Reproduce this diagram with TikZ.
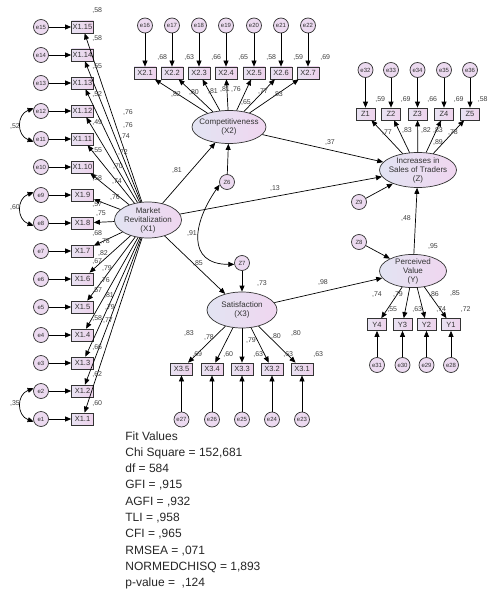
\documentclass[tikz,border=0pt]{standalone}
\usepackage{fontspec}
\setmainfont{Liberation Sans}
\usepackage{tikz}
\usetikzlibrary{arrows.meta,shapes.geometric}
\definecolor{latl}{RGB}{226,228,242}
\definecolor{latr}{RGB}{240,214,240}
\definecolor{boxl}{RGB}{232,226,242}
\definecolor{boxr}{RGB}{238,210,236}
\definecolor{errfill}{RGB}{236,218,240}

\begin{document}
\begin{tikzpicture}[x=1pt,y=-1pt,line width=0.7pt,
  >={Triangle[length=6pt,width=5pt]},
  ind/.style={draw=black!80,left color=boxl,right color=boxr,minimum width=22pt,minimum height=12pt,inner sep=0pt,font=\fontsize{7.5}{8}\selectfont,text=black!80},
  err/.style={circle,draw=black!80,fill=errfill,minimum size=15pt,inner sep=0pt,font=\fontsize{6}{7}\selectfont,text=black!80},
  lat/.style={ellipse,draw=black!80,left color=latl,right color=latr,inner xsep=-5pt,inner ysep=-1pt,align=center,font=\fontsize{8}{9}\selectfont,text=black!80},
  coef/.style={inner sep=0pt,font=\fontsize{7}{8}\selectfont,text=black!75}]
  \useasboundingbox (0,0) rectangle (488,594);

  % latent variables
  \node[lat,minimum width=67pt,minimum height=36pt] (x1) at (148,220) {Market\\Revitalization\\(X1)};
  \node[lat,minimum width=74pt,minimum height=33pt] (x2) at (229,127) {Competitiveness\\(X2)};
  \node[lat,minimum width=70pt,minimum height=36pt] (x3) at (242,310) {Satisfaction\\(X3)};
  \node[lat,minimum width=77pt,minimum height=35pt] (z) at (418,170) {Increases in\\Sales of Traders\\(Z)};
  \node[lat,minimum width=67pt,minimum height=32pt] (y) at (413,271) {Perceived\\Value\\(Y)};
  \node[err] (z6) at (227,182) {Z6};
  \node[err] (z7) at (242,263) {Z7};
  \node[err] (z9) at (359,202) {Z9};
  \node[err] (z8) at (359,242) {Z8};

  % X1 indicators
  \node[ind] (x1-1) at (82.5,419) {X1.1};
  \node[ind] (x1-2) at (82.5,391) {X1.2};
  \node[ind] (x1-3) at (82.5,363) {X1.3};
  \node[ind] (x1-4) at (82.5,335) {X1.4};
  \node[ind] (x1-5) at (82.5,307) {X1.5};
  \node[ind] (x1-6) at (82.5,279) {X1.6};
  \node[ind] (x1-7) at (82.5,251) {X1.7};
  \node[ind] (x1-8) at (82.5,223) {X1.8};
  \node[ind] (x1-9) at (82.5,195) {X1.9};
  \node[ind] (x1-10) at (82.5,167) {X1.10};
  \node[ind] (x1-11) at (82.5,139) {X1.11};
  \node[ind] (x1-12) at (82.5,111) {X1.12};
  \node[ind] (x1-13) at (82.5,83) {X1.13};
  \node[ind] (x1-14) at (82.5,55) {X1.14};
  \node[ind] (x1-15) at (82.5,27) {X1.15};
  \node[err] (e1) at (41,419) {e1};
  \node[err] (e2) at (41,391) {e2};
  \node[err] (e3) at (41,363) {e3};
  \node[err] (e4) at (41,335) {e4};
  \node[err] (e5) at (41,307) {e5};
  \node[err] (e6) at (41,279) {e6};
  \node[err] (e7) at (41,251) {e7};
  \node[err] (e8) at (41,223) {e8};
  \node[err] (e9) at (41,195) {e9};
  \node[err] (e10) at (41,167) {e10};
  \node[err] (e11) at (41,139) {e11};
  \node[err] (e12) at (41,111) {e12};
  \node[err] (e13) at (41,83) {e13};
  \node[err] (e14) at (41,55) {e14};
  \node[err] (e15) at (41,27) {e15};

  % X2 indicators
  \node[ind] (x2-1) at (145,73) {X2.1};
  \node[ind] (x2-2) at (172,73) {X2.2};
  \node[ind] (x2-3) at (199,73) {X2.3};
  \node[ind] (x2-4) at (226,73) {X2.4};
  \node[ind] (x2-5) at (254,73) {X2.5};
  \node[ind] (x2-6) at (281,73) {X2.6};
  \node[ind] (x2-7) at (308,73) {X2.7};
  \node[err] (e16) at (145,25.5) {e16};
  \node[err] (e17) at (172,25.5) {e17};
  \node[err] (e18) at (199,25.5) {e18};
  \node[err] (e19) at (226,25.5) {e19};
  \node[err] (e20) at (254,25.5) {e20};
  \node[err] (e21) at (281,25.5) {e21};
  \node[err] (e22) at (308,25.5) {e22};

  % Z indicators
  \node[ind,minimum width=19pt] (z-1) at (365.5,114) {Z1};
  \node[ind,minimum width=19pt] (z-2) at (391,114) {Z2};
  \node[ind,minimum width=19pt] (z-3) at (417.5,114) {Z3};
  \node[ind,minimum width=19pt] (z-4) at (444,114) {Z4};
  \node[ind,minimum width=19pt] (z-5) at (470,114) {Z5};
  \node[err] (e32) at (365.5,70) {e32};
  \node[err] (e33) at (391,70) {e33};
  \node[err] (e34) at (417.5,70) {e34};
  \node[err] (e35) at (444,70) {e35};
  \node[err] (e36) at (470,70) {e36};

  % Y indicators
  \node[ind,minimum width=19pt] (y-4) at (377,324.5) {Y4};
  \node[ind,minimum width=19pt] (y-3) at (402.5,324.5) {Y3};
  \node[ind,minimum width=19pt] (y-2) at (426.5,324.5) {Y2};
  \node[ind,minimum width=19pt] (y-1) at (451,324.5) {Y1};
  \node[err] (e31) at (377,365) {e31};
  \node[err] (e30) at (402.5,365) {e30};
  \node[err] (e29) at (426.5,365) {e29};
  \node[err] (e28) at (451,365) {e28};

  % X3 indicators
  \node[ind] (x3-5) at (181.5,369) {X3.5};
  \node[ind] (x3-4) at (212,369) {X3.4};
  \node[ind] (x3-3) at (242,369) {X3.3};
  \node[ind] (x3-2) at (272,369) {X3.2};
  \node[ind] (x3-1) at (302,369) {X3.1};
  \node[err] (e27) at (181.5,419.5) {e27};
  \node[err] (e26) at (212,419.5) {e26};
  \node[err] (e25) at (242,419.5) {e25};
  \node[err] (e24) at (272,419.5) {e24};
  \node[err] (e23) at (302,419.5) {e23};

  % error arrows
  \draw[->] (e1) to (x1-1);
  \draw[->] (e2) to (x1-2);
  \draw[->] (e3) to (x1-3);
  \draw[->] (e4) to (x1-4);
  \draw[->] (e5) to (x1-5);
  \draw[->] (e6) to (x1-6);
  \draw[->] (e7) to (x1-7);
  \draw[->] (e8) to (x1-8);
  \draw[->] (e9) to (x1-9);
  \draw[->] (e10) to (x1-10);
  \draw[->] (e11) to (x1-11);
  \draw[->] (e12) to (x1-12);
  \draw[->] (e13) to (x1-13);
  \draw[->] (e14) to (x1-14);
  \draw[->] (e15) to (x1-15);
  \draw[->] (e16) to (x2-1);
  \draw[->] (e17) to (x2-2);
  \draw[->] (e18) to (x2-3);
  \draw[->] (e19) to (x2-4);
  \draw[->] (e20) to (x2-5);
  \draw[->] (e21) to (x2-6);
  \draw[->] (e22) to (x2-7);
  \draw[->] (e32) to (z-1);
  \draw[->] (e33) to (z-2);
  \draw[->] (e34) to (z-3);
  \draw[->] (e35) to (z-4);
  \draw[->] (e36) to (z-5);
  \draw[->] (e31) to (y-4);
  \draw[->] (e30) to (y-3);
  \draw[->] (e29) to (y-2);
  \draw[->] (e28) to (y-1);
  \draw[->] (e27) to (x3-5);
  \draw[->] (e26) to (x3-4);
  \draw[->] (e25) to (x3-3);
  \draw[->] (e24) to (x3-2);
  \draw[->] (e23) to (x3-1);

  % loadings
  \draw[->] (x1) to (x1-1);
  \draw[->] (x1) to (x1-2);
  \draw[->] (x1) to (x1-3);
  \draw[->] (x1) to (x1-4);
  \draw[->] (x1) to (x1-5);
  \draw[->] (x1) to (x1-6);
  \draw[->] (x1) to (x1-7);
  \draw[->] (x1) to (x1-8);
  \draw[->] (x1) to (x1-9);
  \draw[->] (x1) to (x1-10);
  \draw[->] (x1) to (x1-11);
  \draw[->] (x1) to (x1-12);
  \draw[->] (x1) to (x1-13);
  \draw[->] (x1) to (x1-14);
  \draw[->] (x1) to (x1-15);
  \draw[->] (x2) to (x2-1);
  \draw[->] (x2) to (x2-2);
  \draw[->] (x2) to (x2-3);
  \draw[->] (x2) to (x2-4);
  \draw[->] (x2) to (x2-5);
  \draw[->] (x2) to (x2-6);
  \draw[->] (x2) to (x2-7);
  \draw[->] (z) to (z-1);
  \draw[->] (z) to (z-2);
  \draw[->] (z) to (z-3);
  \draw[->] (z) to (z-4);
  \draw[->] (z) to (z-5);
  \draw[->] (y) to (y-4);
  \draw[->] (y) to (y-3);
  \draw[->] (y) to (y-2);
  \draw[->] (y) to (y-1);
  \draw[->] (x3) to (x3-5);
  \draw[->] (x3) to (x3-4);
  \draw[->] (x3) to (x3-3);
  \draw[->] (x3) to (x3-2);
  \draw[->] (x3) to (x3-1);

  % structural paths
  \draw[->] (x1) to (x2);
  \draw[->] (x1) to (x3);
  \draw[->] (x1) to (z);
  \draw[->] (x2) to (z);
  \draw[->] (x3) to (y);
  \draw[->] (y) to (z);
  \draw[->] (z6) to (x2);
  \draw[->] (z7) to (x3);
  \draw[->] (z9) to (z);
  \draw[->] (z8) to (y);

  % covariances
  \draw[<->] (e12.160) to[out=200,in=160,looseness=1.4] (e11.200);
  \draw[<->] (e9.160) to[out=200,in=160,looseness=1.4] (e8.200);
  \draw[<->] (e2.160) to[out=200,in=160,looseness=1.4] (e1.200);
  \draw[<->] (z6.200) to[out=235,in=180,looseness=1.5] (z7.190);

  % estimates
  \node[coef] (c52) at (15,127) {,52};
  \node[coef] (c60) at (15,208) {,60};
  \node[coef] (c35) at (15,403) {,35};
  \node[coef] (c81) at (177,171) {,81};
  \node[coef] (c13) at (275,189) {,13};
  \node[coef] (c85) at (198,264) {,85};
  \node[coef] (c37) at (330,143) {,37};
  \node[coef] (c98) at (323,283) {,98};
  \node[coef] (c48) at (406,219) {,48};
  \node[coef] (c91) at (192,234) {,91};
  \node[coef] (rx2) at (246,103) {,65};
  \node[coef] (rx3) at (262,284) {,73};
  \node[coef] (rz) at (438,143) {,89};
  \node[coef] (ry) at (433,247) {,95};

  \node[coef,anchor=west] (r1-1) at (92,403) {,60};
  \node[coef,anchor=west] (r1-2) at (92,375) {,62};
  \node[coef,anchor=west] (r1-3) at (92,347) {,66};
  \node[coef,anchor=west] (r1-4) at (92,319) {,58};
  \node[coef,anchor=west] (r1-5) at (92,291) {,57};
  \node[coef,anchor=west] (r1-6) at (92,262) {,67};
  \node[coef,anchor=west] (r1-7) at (92,234) {,68};
  \node[coef,anchor=west] (r1-8) at (92,205) {,57};
  \node[coef,anchor=west] (r1-9) at (92,179) {,58};
  \node[coef,anchor=west] (r1-10) at (92,151) {,55};
  \node[coef,anchor=west] (r1-11) at (92,123) {,49};
  \node[coef,anchor=west] (r1-12) at (92,95) {,52};
  \node[coef,anchor=west] (r1-13) at (92,67) {,55};
  \node[coef,anchor=west] (r1-14) at (92,39) {,58};
  \node[coef,anchor=west] (r1-15) at (92,11) {,58};
  \node[coef] (l1-1) at (108,321) {,77};
  \node[coef] (l1-2) at (110,308) {,79};
  \node[coef] (l1-3) at (109,296) {,81};
  \node[coef] (l1-4) at (105,281) {,76};
  \node[coef] (l1-5) at (107,269) {,79};
  \node[coef] (l1-6) at (103,254) {,82};
  \node[coef] (l1-7) at (105,242) {,78};
  \node[coef] (l1-8) at (101,214) {,75};
  \node[coef] (l1-9) at (115,198) {,76};
  \node[coef] (l1-10) at (117,182) {,74};
  \node[coef] (l1-11) at (118,167) {,70};
  \node[coef] (l1-12) at (123,153) {,72};
  \node[coef] (l1-13) at (125,137) {,74};
  \node[coef] (l1-14) at (128,126) {,76};
  \node[coef] (l1-15) at (128,113) {,76};

  \node[coef,anchor=west] (r2-1) at (157,58) {,68};
  \node[coef,anchor=west] (r2-2) at (184,58) {,63};
  \node[coef,anchor=west] (r2-3) at (211,58) {,66};
  \node[coef,anchor=west] (r2-4) at (238,58) {,65};
  \node[coef,anchor=west] (r2-5) at (266,58) {,58};
  \node[coef,anchor=west] (r2-6) at (293,58) {,59};
  \node[coef,anchor=west] (r2-7) at (320,58) {,69};
  \node[coef] (l2-1) at (176,95) {,82};
  \node[coef] (l2-2) at (194,93) {,80};
  \node[coef] (l2-3) at (213,92) {,81};
  \node[coef] (l2-4) at (225,90) {,81};
  \node[coef] (l2-5) at (236,90) {,76};
  \node[coef] (l2-6) at (263,92) {,77};
  \node[coef] (l2-7) at (278,95) {,83};

  \node[coef,anchor=west] (rz-1) at (375,100) {,59};
  \node[coef,anchor=west] (rz-2) at (400.5,100) {,69};
  \node[coef,anchor=west] (rz-3) at (427,100) {,66};
  \node[coef,anchor=west] (rz-4) at (453.5,100) {,69};
  \node[coef,anchor=west] (rz-5) at (477.5,100) {,58};
  \node[coef] (lz-1) at (387,133) {,77};
  \node[coef] (lz-2) at (407,131) {,83};
  \node[coef] (lz-3) at (426,131) {,82};
  \node[coef] (lz-4) at (438,131) {,83};
  \node[coef] (lz-5) at (453,133) {,78};

  \node[coef,anchor=west] (ry-4) at (387,310) {,55};
  \node[coef,anchor=west] (ry-3) at (412,310) {,63};
  \node[coef,anchor=west] (ry-2) at (436,310) {,74};
  \node[coef,anchor=west] (ry-1) at (460.5,310) {,72};
  \node[coef] (ly-4) at (377,295) {,74};
  \node[coef] (ly-3) at (398,295) {,79};
  \node[coef] (ly-2) at (434,295) {,86};
  \node[coef] (ly-1) at (455,294) {,85};

  \node[coef,anchor=west] (r3-5) at (192,354) {,69};
  \node[coef,anchor=west] (r3-4) at (223,354) {,60};
  \node[coef,anchor=west] (r3-3) at (253,354) {,63};
  \node[coef,anchor=west] (r3-2) at (283,354) {,63};
  \node[coef,anchor=west] (r3-1) at (313,354) {,63};
  \node[coef] (l3-5) at (189,334) {,83};
  \node[coef] (l3-4) at (209,338) {,78};
  \node[coef] (l3-3) at (251,340) {,79};
  \node[coef] (l3-2) at (276,337) {,80};
  \node[coef] (l3-1) at (296,334) {,80};

  % fit values
  \node[anchor=north west,align=left,inner sep=0pt,font=\fontsize{12}{16.3}\selectfont,text=black!85] (fit) at (125,431)
    {Fit Values\\Chi Square = 152,681\\df = 584\\GFI = ,915\\AGFI = ,932\\TLI = ,958\\CFI = ,965\\RMSEA = ,071\\NORMEDCHISQ = 1,893\\p-value = \ ,124};
\end{tikzpicture}
\end{document}
